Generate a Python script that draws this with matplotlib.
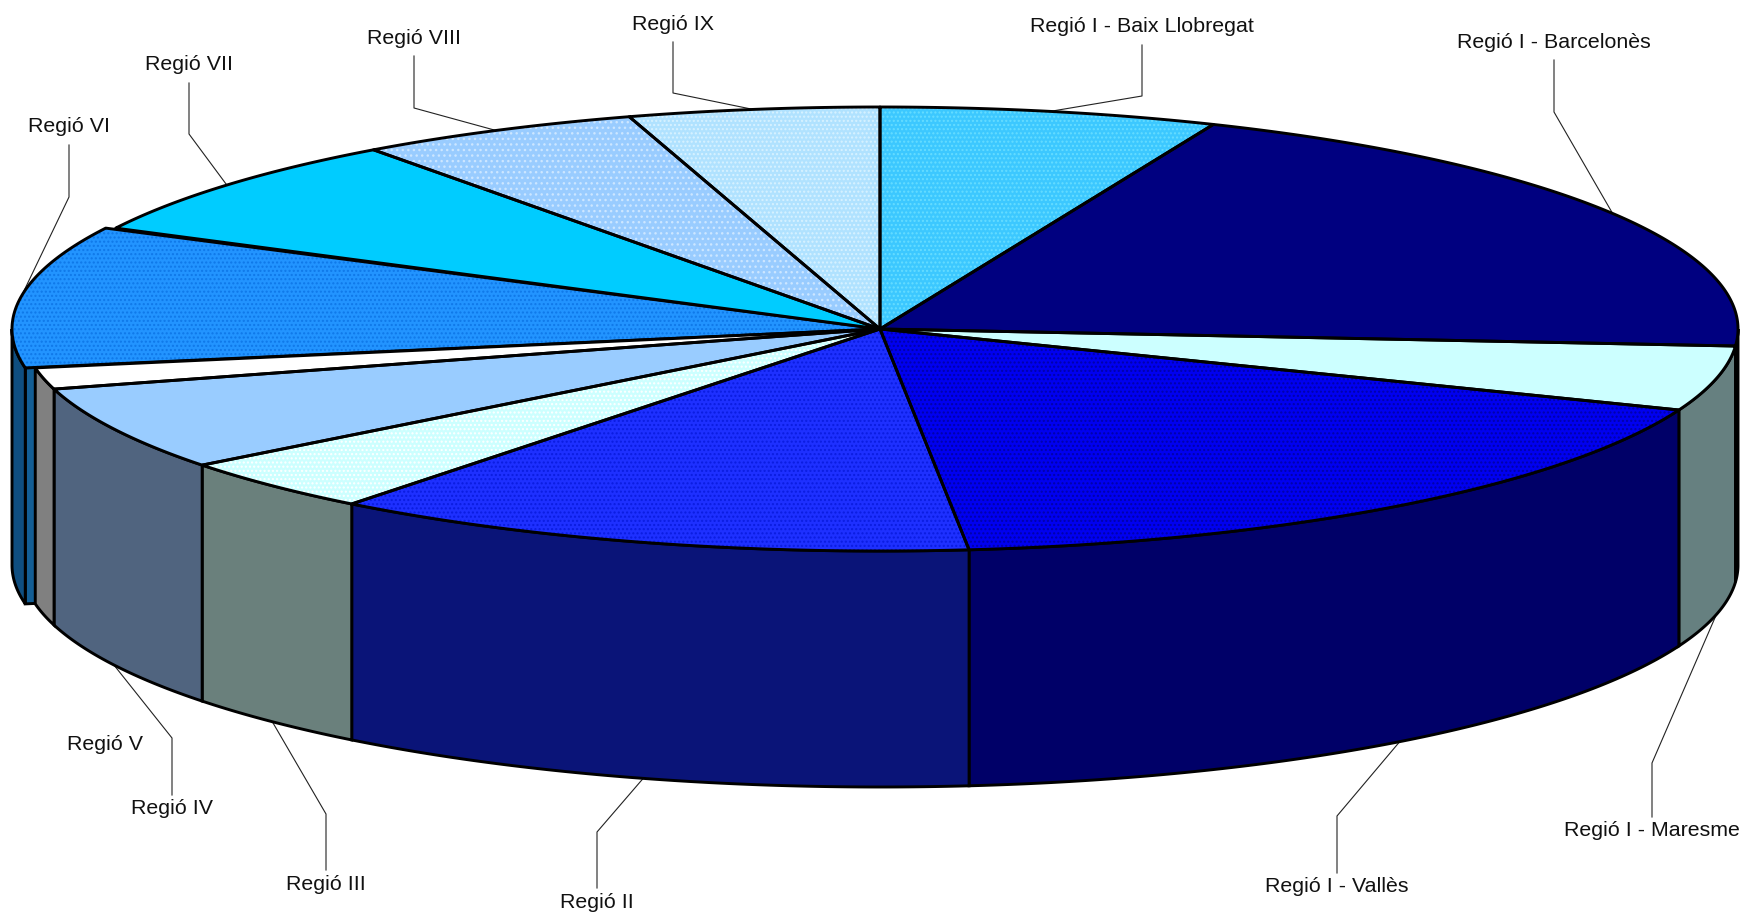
import numpy as np
import matplotlib
matplotlib.use("Agg")
import matplotlib.pyplot as plt
from matplotlib.patches import Polygon

plt.rcParams['font.family'] = ['Liberation Sans', 'DejaVu Sans']
plt.rcParams['hatch.linewidth'] = 1.0

# slices, clockwise from twelve o'clock (share of the pie, %)
regions = ["Regió I - Baix Llobregat", "Regió I - Barcelonès", "Regió I - Maresme", "Regió I - Vallès",
           "Regió II", "Regió III", "Regió IV", "Regió V", "Regió VI", "Regió VII", "Regió VIII", "Regió IX"]
shares = [6.35, 19.87, 4.72, 17.40, 12.21, 3.94, 6.14, 1.56, 10.31, 7.44, 5.33, 4.72]

top_colors = ["#3CC8FF", "#000080", "#CCFFFF", "#0000F0", "#1E30FF", "#CCFFFF",
              "#99CCFF", "#FFFFFF", "#2294FF", "#00CCFF", "#99CCFF", "#B0E2FF"]
side_colors = ["#1F7A99", "#00004D", "#668080", "#000068", "#0A1478", "#6A807C",
               "#50647F", "#808080", "#0F4E80", "#007A99", "#5C7A99", "#6A8899"]
# halftone dots over the fill: (colour, hatch), None = flat
dots = [("#66DDFF", "...."), None, None, ("#0000A8", "...."), ("#0A1CE0", "...."), ("#FFFFFF", "...."),
        None, None, ("#0F78E8", "...."), None, ("#CCE6FF", "..."), ("#D8F2FF", "....")]
# only the Regió VI slice sits a little off the others
x_shift = [0, 0, 0, 0, 0, 0, 0, 0, -10, 0, 0, 0]

# label centres and leader elbows, picture pixels
label_pos = [(1142, 27), (1554, 42), (1652, 831), (1337, 887), (597, 902), (326, 884),
             (172, 809), (105, 744), (69, 127), (189, 65), (414, 38), (673, 24)]
leader_elbow = [(1142, 96), (1554, 112), (1652, 763), (1337, 816), (597, 832), (326, 814),
                (172, 738), None, (69, 197), (189, 134), (414, 108), (673, 93)]
leader_down = [False, False, True, True, True, True, True, False, False, False, False, False]

# pie geometry in pixels
W, H = 1749, 914
cx, cy = 880, 329
rx, ry = 858, 222
depth = 236

fig = plt.figure(figsize=(W / 100, H / 100), dpi=100)
ax = fig.add_axes([0, 0, 1, 1])
ax.set_xlim(0, W)
ax.set_ylim(H, 0)
ax.axis("off")

edges = np.deg2rad(np.concatenate([[0], np.cumsum(shares)]) / np.sum(shares) * 360)


def rim(t, shift=0, drop=0):
	return np.column_stack((cx + shift + rx * np.sin(t), cy + drop - ry * np.cos(t)))


# front wall, only the part of the rim facing the viewer
for i in range(len(shares)):
	a = max(edges[i], np.pi / 2)
	b = min(edges[i + 1], 3 * np.pi / 2)
	if b <= a:
		continue
	t = np.linspace(a, b, 120)
	pts = np.vstack((rim(t, x_shift[i]), rim(t[::-1], x_shift[i], depth)))
	ax.add_patch(Polygon(pts, closed=True, facecolor=side_colors[i], edgecolor="black", lw=2.1, zorder=2))

# inner cut face that shows where Regió VI sits off the pie
i6 = regions.index("Regió VI")
p = rim(np.array([edges[i6]]), x_shift[i6])[0]
wall = [p, (cx, cy), (cx, cy + depth), (p[0], p[1] + depth)]
ax.add_patch(Polygon(wall, closed=True, facecolor="#135E95", edgecolor="black", lw=2.1, zorder=1.5))

# top faces
for i in range(len(shares)):
	t = np.linspace(edges[i], edges[i + 1], 200)
	pts = np.vstack(([(cx, cy)], rim(t, x_shift[i])))
	z = 3 if i != i6 else 2.5
	ax.add_patch(Polygon(pts, closed=True, facecolor=top_colors[i], edgecolor="none", zorder=z))
	if dots[i] is not None:
		ax.add_patch(Polygon(pts, closed=True, facecolor="none", edgecolor=dots[i][0], hatch=dots[i][1], lw=0, zorder=z + 0.1))
	ax.add_patch(Polygon(pts, closed=True, facecolor="none", edgecolor="black", lw=2.1, joinstyle="round", zorder=z + 0.2))

# labels and leaders, the leader ends on the rim at the middle of the slice
for i, name in enumerate(regions):
	ax.text(label_pos[i][0], label_pos[i][1], name, ha="center", va="center", fontsize=15.4, color="#111111", zorder=6)
	if leader_elbow[i] is None:
		continue
	mid = np.array([(edges[i] + edges[i + 1]) / 2])
	end = rim(mid, x_shift[i], depth if leader_down[i] else 0)[0]
	ex, ey = leader_elbow[i]
	start_y = label_pos[i][1] + (-14 if leader_down[i] else 18)
	ax.plot([ex, ex, end[0]], [start_y, ey, end[1]], color="#222222", lw=0.8, zorder=1)

fig.savefig("out.png", dpi=100)
